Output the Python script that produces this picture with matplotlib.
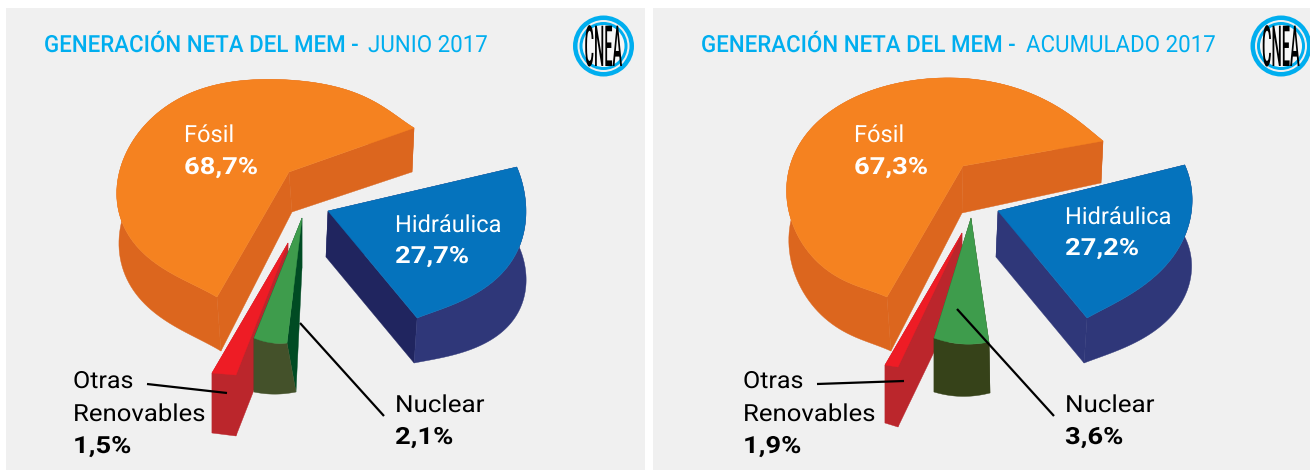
import numpy as np
import matplotlib
matplotlib.use("Agg")
import matplotlib.pyplot as plt
from matplotlib.patches import Circle, Polygon, Rectangle
from matplotlib.patheffects import AbstractPathEffect
from matplotlib.transforms import Affine2D

# valores del grafico (% de generacion)
categorias = ["Fósil", "Hidráulica", "Otras\nRenovables", "Nuclear"]
junio = [68.7, 27.7, 1.5, 2.1]
acumulado = [67.3, 27.2, 1.9, 3.6]
titulos = ["JUNIO 2017", "ACUMULADO 2017"]
titulo_base = "GENERACIÓN NETA DEL MEM -"

CYAN = "#00AEEF"
BG = "#F0F0F0"
plt.rcParams["font.family"] = ["Roboto", "DejaVu Sans"]


class Stretch(AbstractPathEffect):
    # escala el texto (las letras DIN son mas angostas que Roboto)
    def __init__(self, sx=1.0, sy=1.0):
        super().__init__()
        self.sx, self.sy = sx, sy

    def draw_path(self, renderer, gc, tpath, affine, rgbFace=None):
        renderer.draw_path(gc, tpath, Affine2D().scale(self.sx, self.sy) + affine, rgbFace)


def rim_curve(outline, rim_deg, sweep, n=120):
    # borde de la porcion en perspectiva, recorrido hasta el angulo del valor
    pts = np.array(outline, dtype=float)
    s = np.r_[0, np.cumsum(np.hypot(*np.diff(pts, axis=0).T))]
    s = s / s[-1]
    deg = 8 if len(pts) >= 10 else min(len(pts) - 1, 4)
    u = np.linspace(0, sweep / rim_deg, n)
    return np.column_stack([np.polyval(np.polyfit(s, pts[:, 0], deg), u),
                            np.polyval(np.polyfit(s, pts[:, 1], deg), u)])


def draw_slice(ax, share, geo):
    arc = rim_curve(geo["outline"], geo["rim_deg"], share * 3.6)
    apex = np.array(geo["apex"], dtype=float)
    d_apex, d_start, d_end = [np.array(d, dtype=float) for d in geo["depth"]]
    frac = np.linspace(0, 1, len(arc))[:, None]
    arc_low = arc + d_start * (1 - frac) + d_end * frac
    apex_low = apex + d_apex

    ax.add_patch(Polygon([apex, arc[-1], arc_low[-1], apex_low], fc=geo["end"], ec=geo["end"], lw=0.3))
    ax.add_patch(Polygon([apex, arc[0], arc_low[0], apex_low], fc=geo["start"], ec=geo["start"], lw=0.3))
    ax.add_patch(Polygon(np.vstack([arc, arc_low[::-1]]), fc=geo["rim"], ec=geo["rim"], lw=0.3))
    ax.add_patch(Polygon(np.vstack([apex, arc]), fc=geo["top"], ec=geo["top"], lw=0.3))


def draw_logo(ax, cx, cy):
    for r, c in [(30.5, CYAN), (26, BG), (24, CYAN), (21, "#F7F7F7")]:
        ax.add_patch(Circle((cx, cy), r, fc=c, ec="none"))
    clip = Circle((cx, cy), 20.5, transform=ax.transData)
    t = ax.text(cx - 19, cy + 20, "CNEA", color="black", fontsize=9.5, weight="medium",
                ha="left", va="baseline", path_effects=[Stretch(1.1, 4.3)])
    t.set_clip_path(clip)


def label(ax, x, y, s, color, bold=False, sx=1.0):
    ax.text(x, y, s, color=color, fontsize=17, weight="bold" if bold else "normal",
            ha="left", va="baseline", path_effects=[Stretch(sx, 1.0)])


def pct(v):
    return f"{v:.1f}%".replace(".", ",")


ORANGE = dict(top="#F58220", start="#DC661E", end="#DC661E", rim="#DC661E")
RED = dict(top="#EE1C25", start="#BB262C", end="#BB262C", rim="#BB262C")

geo_left = {
    "Fósil": dict(ORANGE, apex=(289, 172), rim_deg=247.3,
                  outline=[(414, 128), (377, 103), (335, 87), (272, 79), (209, 87), (157, 113),
                           (130, 147), (117, 193), (123, 230), (143, 250), (177, 277), (217, 297)],
                  depth=[(3, 40), (-2, 44), (4, 54)]),
    "Hidráulica": dict(top="#0573BD", start="#20255F", end="#2F3779", rim="#2F3779", apex=(328, 211),
                       rim_deg=99.7,
                       outline=[(417, 318), (460, 302), (490, 283), (513, 260), (524, 233), (526, 217),
                                (524, 195), (517, 167)],
                       depth=[(-2, 46), (-3, 45), (1, 77)]),
    "Otras\nRenovables": dict(RED, apex=(288, 243), rim_deg=5.4,
                              outline=[(212, 373), (236, 375)],
                              depth=[(0, 60), (0, 60), (0, 61)]),
    "Nuclear": dict(top="#3E9C4C", start="#004B23", end="#004B23", rim="#44512A", apex=(302, 218),
                    rim_deg=7.56, outline=[(254, 338), (273, 343), (287, 343)],
                    depth=[(0, 50), (0, 54), (9, 49)]),
}
geo_right = {
    "Fósil": dict(ORANGE, apex=(963, 166), rim_deg=242.3,
                  outline=[(1103, 141), (1063, 110), (1020, 90), (953, 77), (887, 87), (827, 113),
                           (800, 143), (787, 187), (793, 227), (803, 243), (837, 277), (887, 297)],
                  depth=[(-1, 47), (-2, 42), (4, 54)]),
    "Hidráulica": dict(top="#0573BD", start="#2F3779", end="#2F3779", rim="#2F3779", apex=(998, 211),
                       rim_deg=97.9,
                       outline=[(1087, 318), (1133, 293), (1167, 263), (1187, 233), (1192, 203),
                                (1190, 183), (1185, 165)],
                       depth=[(-2, 46), (-3, 45), (0, 72)]),
    "Otras\nRenovables": dict(RED, apex=(962, 233), rim_deg=6.84,
                              outline=[(885, 365), (898, 367)],
                              depth=[(0, 61), (0, 58), (0, 60)]),
    "Nuclear": dict(top="#3E9C4C", start="#333F18", end="#333F18", rim="#364219", apex=(971, 218),
                    rim_deg=12.96, outline=[(934, 338), (963, 344), (989, 342)],
                    depth=[(0, 50), (0, 54), (1, 51)]),
}

fig = plt.figure(figsize=(13.1, 4.7), dpi=100)
ax = fig.add_axes([0, 0, 1, 1])
ax.set_xlim(0, 1310)
ax.set_ylim(470, 0)
ax.axis("off")

panels = [
    dict(x0=6, x1=645, dx=0, tx0=44, geo=geo_left, vals=junio, hid_y=232, tx=368, logo=603.5,
         leaders=[(147, 384, 227, 393), (300, 323, 384, 416)]),
    dict(x0=653, x1=1310, dx=670, tx0=701, geo=geo_right, vals=acumulado, hid_y=224, tx=1026, logo=1281,
         leaders=[(817, 384, 904, 381), (957, 309, 1054, 416)]),
]

for i, p in enumerate(panels):
    ax.add_patch(Rectangle((p["x0"], 8), p["x1"] - p["x0"], 462, fc=BG, ec="none"))
    dx = p["dx"]
    ax.text(p["tx0"], 52, titulo_base, color=CYAN, fontsize=17, weight="medium",
            ha="left", va="baseline", path_effects=[Stretch(0.945, 1.0)])
    ax.text(p["tx"], 52, titulos[i], color=CYAN, fontsize=17, ha="left", va="baseline",
            path_effects=[Stretch(0.945, 1.0)])
    draw_logo(ax, p["logo"], 46)

    for cat, v in zip(categorias, p["vals"]):
        draw_slice(ax, v, p["geo"][cat])
    for x1, y1, x2, y2 in p["leaders"]:
        ax.plot([x1, x2], [y1, y2], color="black", lw=1.6, solid_capstyle="butt")

    fosil, hidro, otras, nuclear = p["vals"]
    label(ax, 184 + dx, 142, "Fósil", "white")
    label(ax, 184 + dx, 174, pct(fosil), "white", bold=True, sx=1.16)
    label(ax, 395 + dx, p["hid_y"], "Hidráulica", "white")
    label(ax, 395 + dx, p["hid_y"] + 31, pct(hidro), "white", bold=True, sx=1.16)
    label(ax, 73 + dx, 388, "Otras", "black", sx=1.06)
    label(ax, 73 + dx, 421, "Renovables", "black", sx=1.09)
    label(ax, 73 + dx, 453, pct(otras), "black", bold=True, sx=1.16)
    label(ax, 395 + dx, 412, "Nuclear", "black", sx=1.1)
    label(ax, 395 + dx, 444, pct(nuclear), "black", bold=True, sx=1.16)

fig.savefig("out.png", dpi=100, facecolor="white")
